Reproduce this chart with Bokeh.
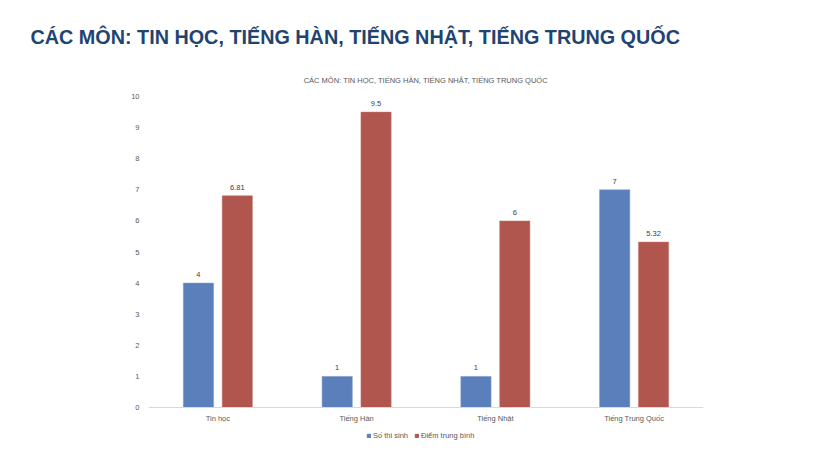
from bokeh.plotting import figure
from bokeh.models import ColumnDataSource, Legend, LegendItem, FactorRange, Range1d, FixedTicker, Title, Span
from bokeh.transform import dodge
from bokeh.core.properties import value
from bokeh.embed import file_html
from bokeh.resources import INLINE

categories = ["Tin học", "Tiếng Hàn", "Tiếng Nhật", "Tiếng Trung Quốc"]
so_thi_sinh = [4, 1, 1, 7]
diem_tb = [6.81, 9.5, 6, 5.32]
label_thi_sinh = ["4", "1", "1", "7"]
label_diem = ["6.81", "9.5", "6", "5.32"]
y_ticks = [0, 1, 2, 3, 4, 5, 6, 7, 8, 9, 10]
series_names = ["Số thi sinh", "Điểm trung bình"]
main_title = "CÁC MÔN: TIN HỌC, TIẾNG HÀN, TIẾNG NHẬT, TIẾNG TRUNG QUỐC"
chart_title = "CÁC MÔN: TIN HỌC, TIẾNG HÀN, TIẾNG NHẬT, TIẾNG TRUNG QUỐC"

BLUE = "#5A7FBA"
RED = "#B0564F"
GRAY = "#595959"
FONT = "Liberation Sans"

src = ColumnDataSource(dict(cat=categories, a=so_thi_sinh, b=diem_tb,
                            la=label_thi_sinh, lb=label_diem))

# frame spans from y=96 (value 10) to the bottom of the canvas; value 0 sits at y=407
PX_PER_UNIT = (407 - 96) / 10.0
y_bottom = -(446 - 407) / PX_PER_UNIT

p = figure(x_range=FactorRange(*categories), y_range=Range1d(y_bottom, 10),
           width=824, height=446, output_backend="svg", toolbar_location=None,
           min_border_left=148, min_border_right=121, min_border_top=96, min_border_bottom=0)
p.outline_line_color = None
p.background_fill_color = "white"
p.border_fill_color = "white"
p.xgrid.grid_line_color = None
p.ygrid.grid_line_color = None
p.xaxis.visible = False

p.add_layout(Span(location=0, dimension="width", line_color="#d9d9d9", line_width=1))

r1 = p.vbar(x=dodge("cat", -0.14, range=p.x_range), top="a", width=0.218, source=src,
            fill_color=BLUE, line_color="#7d9bcb", line_width=0.5)
r2 = p.vbar(x=dodge("cat", 0.14, range=p.x_range), top="b", width=0.218, source=src,
            fill_color=RED, line_color="#c77d77", line_width=0.5)

p.text(x=dodge("cat", -0.14, range=p.x_range), y="a", text="la", source=src,
       text_align="center", text_baseline="bottom", y_offset=-6,
       text_font=value(FONT), text_font_size="7.5px", text_color="#404040")
p.text(x=dodge("cat", 0.14, range=p.x_range), y="b", text="lb", source=src,
       text_align="center", text_baseline="bottom", y_offset=-6,
       text_font=value(FONT), text_font_size="7.5px", text_color="#404040")

# category labels under the baseline
p.text(x="cat", y=0, text="cat", source=src, text_align="center", text_baseline="middle",
       y_offset=11, text_font=value(FONT), text_font_size="7.5px", text_color=GRAY)

p.yaxis.ticker = FixedTicker(ticks=y_ticks)
p.yaxis.axis_line_color = None
p.yaxis.major_tick_line_color = None
p.yaxis.minor_tick_line_color = None
p.yaxis.major_label_text_font = FONT
p.yaxis.major_label_text_font_size = "7.5px"
p.yaxis.major_label_text_color = GRAY
p.yaxis.major_label_standoff = 3

t_chart = Title(text=chart_title, align="center", text_font=FONT, text_font_size="7.5px",
                text_font_style="normal", text_color=GRAY, standoff=23)
t_main = Title(text=main_title, align="left", offset=-118, text_font=FONT,
               text_font_style="bold", text_font_size="19.8px", text_color="#1F4471", standoff=29)
p.add_layout(t_chart, "above")
p.add_layout(t_main, "above")

legend = Legend(items=[LegendItem(label=series_names[0], renderers=[r1]),
                       LegendItem(label=series_names[1], renderers=[r2])],
                orientation="horizontal", location=(218, 6),
                label_text_font=FONT, label_text_font_size="7.5px", label_text_color=GRAY,
                glyph_width=5, glyph_height=5, label_standoff=2, spacing=6,
                padding=0, margin=0, border_line_color=None, background_fill_alpha=0,
                label_height=8)
p.add_layout(legend, "center")

open("out.html", "w").write(file_html(p, INLINE))
